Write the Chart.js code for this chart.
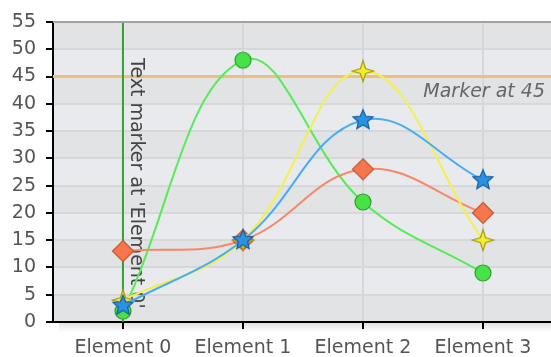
<!DOCTYPE html>
<html>
<head>
<meta charset="utf-8">
<script src="https://cdn.jsdelivr.net/npm/chart.js@4/dist/chart.umd.min.js"></script>
<style>
  html, body { margin: 0; padding: 0; background: #ffffff; }
  #wrap { width: 551px; height: 357px; }
</style>
</head>
<body>
<div id="wrap"><canvas id="chart" width="551" height="357"></canvas></div>
<script>
// Categories and series values
const categories = ['Element 0', 'Element 1', 'Element 2', 'Element 3'];
const greenValues = [2, 48, 22, 9];
const yellowValues = [4, 15, 46, 15];
const blueValues = [3, 15, 37, 26];
const orangeValues = [13, 15, 28, 20];
const yTickValues = [0, 5, 10, 15, 20, 25, 30, 35, 40, 45, 50, 55];

// Annotations
const lineMarkerValue = 45;
const lineMarkerLabel = 'Marker at 45';
const textMarkerIndex = 0;
const textMarkerLabel = "Text marker at 'Element 0'";

const FONT = '"DejaVu Sans", sans-serif';

// Marker glyphs rendered into small canvases and used as point styles
function makeGlyph(size, draw) {
  const c = document.createElement('canvas');
  c.width = size; c.height = size;
  const g = c.getContext('2d');
  g.translate(size / 2, size / 2);
  draw(g);
  return c;
}
function starPath(g, points, outer, inner) {
  g.beginPath();
  for (let i = 0; i < points * 2; i++) {
    const r = i % 2 === 0 ? outer : inner;
    const a = -Math.PI / 2 + i * Math.PI / points;
    const px = Math.cos(a) * r, py = Math.sin(a) * r;
    if (i === 0) g.moveTo(px, py); else g.lineTo(px, py);
  }
  g.closePath();
}
const circleGlyph = makeGlyph(20, g => {
  g.beginPath(); g.arc(0, 0, 8, 0, Math.PI * 2);
  g.fillStyle = '#46e246'; g.fill();
  g.lineWidth = 1.2; g.strokeStyle = '#2f9a2f'; g.stroke();
});
const diamondGlyph = makeGlyph(24, g => {
  g.beginPath(); g.moveTo(0, -10.5); g.lineTo(10.5, 0); g.lineTo(0, 10.5); g.lineTo(-10.5, 0); g.closePath();
  g.fillStyle = '#f8764e'; g.fill();
  g.lineWidth = 1.2; g.strokeStyle = '#c4582f'; g.stroke();
});
const star4Glyph = makeGlyph(24, g => {
  starPath(g, 4, 10.5, 3.6);
  g.fillStyle = '#f2ee2c'; g.fill();
  g.lineWidth = 1.2; g.strokeStyle = '#a89c12'; g.stroke();
});
const star5Glyph = makeGlyph(24, g => {
  starPath(g, 5, 10.5, 4.8);
  g.fillStyle = '#2a92e2'; g.fill();
  g.lineWidth = 1.2; g.strokeStyle = '#175e9e'; g.stroke();
});

function toPoints(values) {
  return values.map((v, i) => ({ x: i, y: v }));
}

// Alternating horizontal bands, frame line and shadow under the x axis
const backgroundPlugin = {
  id: 'bands',
  beforeDraw(chart) {
    const { ctx, chartArea: a, scales: { y } } = chart;
    ctx.save();
    for (let i = 0; i < yTickValues.length - 1; i++) {
      const top = y.getPixelForValue(yTickValues[i + 1]);
      const bottom = y.getPixelForValue(yTickValues[i]);
      ctx.fillStyle = i % 2 === 0 ? '#e2e3e5' : '#e8eaed';
      ctx.fillRect(a.left, top, a.right - a.left, bottom - top);
    }
    const grad = ctx.createLinearGradient(0, a.bottom, 0, a.bottom + 10);
    grad.addColorStop(0, 'rgba(0,0,0,0.13)');
    grad.addColorStop(1, 'rgba(0,0,0,0)');
    ctx.fillStyle = grad;
    ctx.fillRect(a.left + 6, a.bottom, a.right - a.left, 10);
    ctx.restore();
  },
  afterDraw(chart) {
    const { ctx, chartArea: a } = chart;
    ctx.save();
    ctx.strokeStyle = '#a2a2a2';
    ctx.lineWidth = 2;
    ctx.beginPath();
    ctx.moveTo(a.left, a.top);
    ctx.lineTo(a.right, a.top);
    ctx.stroke();
    ctx.restore();
  }
};

// Horizontal value marker and vertical category marker with their labels
const markerPlugin = {
  id: 'markers',
  beforeDatasetsDraw(chart) {
    const { ctx, chartArea: a, scales: { x, y } } = chart;
    ctx.save();
    const my = y.getPixelForValue(lineMarkerValue);
    ctx.strokeStyle = '#efc07c';
    ctx.lineWidth = 3;
    ctx.beginPath(); ctx.moveTo(a.left, my); ctx.lineTo(a.right, my); ctx.stroke();
    ctx.font = 'italic 19px ' + FONT;
    ctx.fillStyle = '#666666';
    ctx.textAlign = 'right';
    ctx.textBaseline = 'alphabetic';
    ctx.fillText(lineMarkerLabel, a.right - 6, my + 20);

    const mx = x.getPixelForValue(textMarkerIndex);
    ctx.strokeStyle = '#35a035';
    ctx.lineWidth = 2;
    ctx.beginPath(); ctx.moveTo(mx, a.top); ctx.lineTo(mx, a.bottom); ctx.stroke();
    ctx.translate(mx + 8, a.top + 36);
    ctx.rotate(Math.PI / 2);
    ctx.font = '19px ' + FONT;
    ctx.fillStyle = '#444444';
    ctx.textAlign = 'left';
    ctx.textBaseline = 'alphabetic';
    ctx.fillText(textMarkerLabel, 0, 0);
    ctx.restore();
  }
};

function lineSeries(label, values, color, glyph, order) {
  return {
    label,
    data: toPoints(values),
    borderColor: color,
    borderWidth: 2,
    tension: 0.4,
    pointStyle: glyph,
    pointRadius: 10,
    pointHoverRadius: 10,
    fill: false,
    order
  };
}

new Chart(document.getElementById('chart'), {
  type: 'line',
  data: {
    datasets: [
      lineSeries('Green', greenValues, '#55ec55', circleGlyph, 4),
      lineSeries('Orange', orangeValues, '#f8886a', diamondGlyph, 3),
      lineSeries('Yellow', yellowValues, '#f6f04a', star4Glyph, 2),
      lineSeries('Blue', blueValues, '#48aef0', star5Glyph, 1)
    ]
  },
  options: {
    responsive: false,
    animation: false,
    events: [],
    layout: { autoPadding: false, padding: { top: 22, right: 0, left: 0, bottom: 0 } },
    plugins: { legend: { display: false }, tooltip: { enabled: false } },
    scales: {
      x: {
        type: 'linear',
        min: -0.583,
        max: 3.567,
        afterBuildTicks(scale) {
          scale.ticks = categories.map((c, i) => ({ value: i }));
        },
        afterFit(scale) {
          scale.height = 35;
          scale.paddingLeft = 0;
          scale.paddingRight = 0;
        },
        ticks: {
          callback: v => categories[v],
          font: { family: FONT, size: 19 },
          color: '#555555',
          padding: 8,
          maxRotation: 0,
          autoSkip: false
        },
        grid: {
          color: '#d6d7d9',
          lineWidth: 2,
          tickColor: '#000000',
          tickLength: 7,
          tickWidth: 2
        },
        border: { color: '#000000', width: 2 }
      },
      y: {
        min: 0,
        max: 55,
        afterBuildTicks(scale) {
          scale.ticks = yTickValues.map(v => ({ value: v }));
        },
        afterFit(scale) {
          scale.width = 53;
          scale.paddingTop = 0;
          scale.paddingBottom = 0;
        },
        ticks: {
          font: { family: FONT, size: 19 },
          color: '#555555',
          padding: 10
        },
        grid: {
          color: '#d6d7d9',
          lineWidth: 2,
          tickColor: '#000000',
          tickLength: 7,
          tickWidth: 2
        },
        border: { color: '#000000', width: 2 }
      }
    }
  },
  plugins: [backgroundPlugin, markerPlugin]
});
</script>
</body>
</html>
